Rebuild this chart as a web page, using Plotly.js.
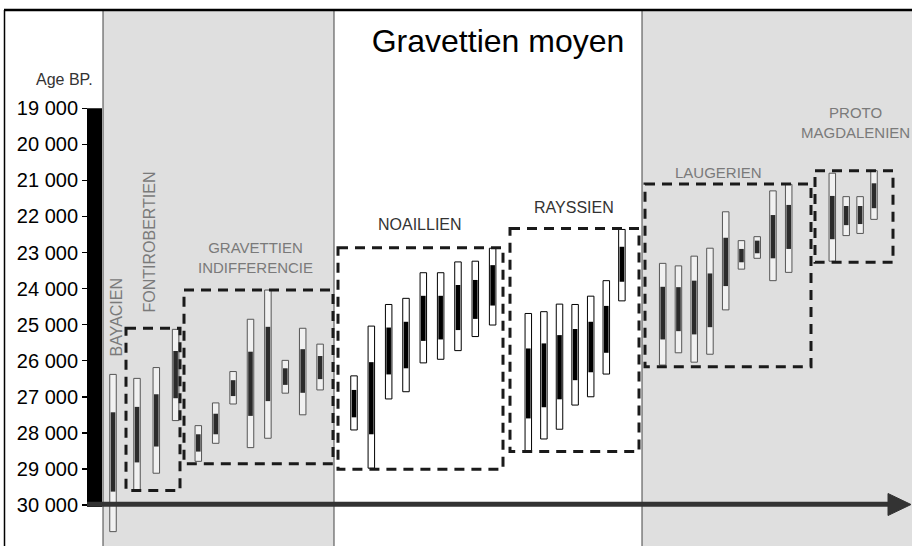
<!DOCTYPE html>
<html>
<head>
<meta charset="utf-8">
<script src="https://cdn.plot.ly/plotly-3.0.1.min.js"></script>
<style>html,body{margin:0;padding:0;background:#fff;}#chart{width:912px;height:546px;}</style>
</head>
<body>
<div id="chart"></div>
<script>
// ---------------- DATA ----------------
const cultures = ["BAYACIEN", "FONTIROBERTIEN", "GRAVETTIEN INDIFFERENCIE", "NOAILLIEN", "RAYSSIEN", "LAUGERIEN", "PROTO MAGDALENIEN"];
// culture index of each dated sample
const dateCulture = [0, 1,1,1, 2,2,2,2,2,2,2,2, 3,3,3,3,3,3,3,3,3, 4,4,4,4,4,4,4, 5,5,5,5,5,5,5,5,5, 6,6,6,6];
// 2-sigma range (youngest / oldest) and 1-sigma range, years BP
const age2sMin = [26380, 26490,26190,25130, 27800,27170,26300,24850,24040,25990,25100,25540,
  26420,25040,24440,24270,23560,23560,23260,23240,22880,
  24690,24640,24430,24440,24210,23780,22360,
  23300,23370,23100,22880,21870,22670,22560,21290,21110,
  20800,21450,21450,20730];
const age1sMin = [27430, 27280,26930,25730, 28040,27470,26540,25750,25060,26210,25680,25870,
  26810,26040,25080,24920,24200,24200,23900,23760,23350,
  25660,25520,25290,25120,24920,24480,22840,
  23950,23960,23780,23580,22590,22900,22670,21960,21680,
  21430,21710,21710,21080];
const age1sMax = [29630, 28820,28380,27040, 28520,28040,26980,27530,27120,26670,26890,26510,
  27570,28040,26380,26210,25450,25410,25150,24840,24470,
  27600,27290,27070,26540,26320,25780,23810,
  25410,25180,25270,25070,23930,23270,23020,23160,22900,
  22630,22240,22210,21770];
const age2sMax = [30740, 29600,29120,27660, 28790,28290,27200,28410,28150,26900,27500,26810,
  27920,28980,27060,26860,26060,25960,25720,25330,25010,
  28500,28170,27900,27230,27000,26370,24340,
  26120,25780,26040,25820,24590,23460,23160,23780,23550,
  23240,22530,22470,22080];
// age span of each culture's dashed frame (null = no frame)
const frameAgeTop = [null, 25100, 24040, 22870, 22330, 21100, 20730];
const frameAgeBottom = [null, 29600, 28860, 29010, 28520, 26170, 23270];
// axis ticks
const tickVals = [19000,20000,21000,22000,23000,24000,25000,26000,27000,28000,29000,30000];
const tickText = ["19 000","20 000","21 000","22 000","23 000","24 000","25 000","26 000","27 000","28 000","29 000","30 000"];
const chartTitle = "Gravettien moyen";
const axisLabel = "Age BP.";

// ---------------- LAYOUT CONFIG ----------------
const W = 912, H = 546, TOP = 10;
const PY0 = 108.3, K = 0.03606, Y0 = 19000;           // pixel calibration of the age axis
const age = py => Y0 + (py - PY0) / K;
const FONT = "Liberation Sans, Arial, sans-serif";
// horizontal placement of each culture's columns (x axis in pixel units)
const groupStart = [113, 137, 198.3, 354, 528.3, 662.7, 832.3];
const groupStep  = [0, 19.3, 17.4, 17.33, 15.6, 15.75, 13.9];
const frameX = [null, [126,180], [184,333], [338,503], [510,639], [645,811], [815,893]];
const greyGroup = [true, true, true, false, false, true, true];

// x position of each column
const counters = cultures.map(() => 0);
const xPos = dateCulture.map(c => { const v = groupStart[c] + groupStep[c] * counters[c]; counters[c]++; return v; });

const outerFill = dateCulture.map(c => greyGroup[c] ? "#f1f1f1" : "#ffffff");
const outerLine = dateCulture.map(c => greyGroup[c] ? "#555555" : "#000000");
const innerFill = dateCulture.map(c => greyGroup[c] ? "#2b2b2b" : "#000000");

const traces = [
  {type: "bar", x: xPos, base: age2sMin, y: age2sMax.map((v,i) => v - age2sMin[i]), width: 6.5,
   marker: {color: outerFill, line: {color: outerLine, width: 1}}, hoverinfo: "skip", showlegend: false},
  {type: "bar", x: xPos, base: age1sMin, y: age1sMax.map((v,i) => v - age1sMin[i]), width: 4.6,
   marker: {color: innerFill, line: {width: 0}}, hoverinfo: "skip", showlegend: false}
];

const shapes = [
  {type: "rect", xref: "x", yref: "paper", x0: 103, x1: 334, y0: 0, y1: 1, fillcolor: "#dfdfdf", line: {width: 0}, layer: "below"},
  {type: "rect", xref: "x", yref: "paper", x0: 642, x1: 912, y0: 0, y1: 1, fillcolor: "#dfdfdf", line: {width: 0}, layer: "below"},
  {type: "line", xref: "x", yref: "paper", x0: 103, x1: 103, y0: 0, y1: 1, line: {color: "#444", width: 1}},
  {type: "line", xref: "x", yref: "paper", x0: 334, x1: 334, y0: 0, y1: 1, line: {color: "#444", width: 1}},
  {type: "line", xref: "x", yref: "paper", x0: 642, x1: 642, y0: 0, y1: 1, line: {color: "#444", width: 1}},
  {type: "line", xref: "x", yref: "paper", x0: 4, x1: 912, y0: 1, y1: 1, line: {color: "#000", width: 2.5}},
  {type: "line", xref: "x", yref: "paper", x0: 4.5, x1: 4.5, y0: 0, y1: 1, line: {color: "#000", width: 1.5}},
  // thick age axis
  {type: "rect", xref: "x", yref: "y", x0: 87, x1: 102, y0: Y0, y1: age(507), fillcolor: "#000", line: {width: 0}},
  // time arrow
  {type: "line", xref: "x", yref: "y", x0: 87, x1: 892, y0: age(504.3), y1: age(504.3), line: {color: "#333", width: 5}},
  {type: "path", xref: "x", yref: "y",
   path: `M 888 ${age(493.5)} L 911 ${age(504.5)} L 888 ${age(515.5)} Z`, fillcolor: "#333", line: {color: "#333", width: 1}}
];
frameX.forEach((fx, c) => {
  if (!fx) return;
  shapes.push({type: "rect", xref: "x", yref: "y", x0: fx[0], x1: fx[1], y0: frameAgeTop[c], y1: frameAgeBottom[c],
    line: {color: "#1a1a1a", width: 3, dash: "10px,7px"}, layer: "above"});
});

const greyFont = {family: FONT, size: 15, color: "#7a7a7a"};
const darkFont = {family: FONT, size: 16, color: "#333"};
const annotations = [
  {text: axisLabel, x: 95, y: age(79), xref: "x", yref: "y", xanchor: "right", yanchor: "middle", showarrow: false, font: {family: FONT, size: 16, color: "#333"}},
  {text: cultures[0], x: 115.5, y: age(317), xref: "x", yref: "y", textangle: -90, showarrow: false, font: {family: FONT, size: 16, color: "#7a7a7a"}},
  {text: cultures[1], x: 149, y: age(242.5), xref: "x", yref: "y", textangle: -90, showarrow: false, font: {family: FONT, size: 16, color: "#7a7a7a"}},
  {text: "GRAVETTIEN<br>INDIFFERENCIE", x: 255, y: age(257), xref: "x", yref: "y", showarrow: false, font: greyFont, align: "center"},
  {text: cultures[3], x: 420, y: age(224), xref: "x", yref: "y", showarrow: false, font: darkFont},
  {text: cultures[4], x: 574, y: age(207), xref: "x", yref: "y", showarrow: false, font: darkFont},
  {text: cultures[5], x: 718, y: age(172.5), xref: "x", yref: "y", showarrow: false, font: greyFont},
  {text: "PROTO<br>MAGDALENIEN", x: 855, y: age(122), xref: "x", yref: "y", showarrow: false, font: greyFont, align: "center"}
];

const layout = {
  width: W, height: H,
  margin: {l: 0, r: 0, t: TOP, b: 0, pad: 0},
  paper_bgcolor: "#fff", plot_bgcolor: "#fff",
  title: {text: chartTitle, font: {family: FONT, size: 32, color: "#000"}, x: 498 / W, xref: "paper", xanchor: "center",
          y: 1 - 41 / H, yref: "container", yanchor: "middle"},
  barmode: "overlay",
  xaxis: {range: [0, W], visible: false, fixedrange: true},
  yaxis: {range: [age(H), age(TOP)], anchor: "free", position: 87 / W, tickvals: tickVals, ticktext: tickText,
          ticks: "outside", ticklen: 5, tickwidth: 1.5, tickcolor: "#000", showline: false, showgrid: false, zeroline: false,
          tickfont: {family: FONT, size: 20, color: "#000"}, fixedrange: true},
  shapes: shapes,
  annotations: annotations,
  showlegend: false
};

Plotly.newPlot("chart", traces, layout, {displayModeBar: false, staticPlot: true});
</script>
</body>
</html>
